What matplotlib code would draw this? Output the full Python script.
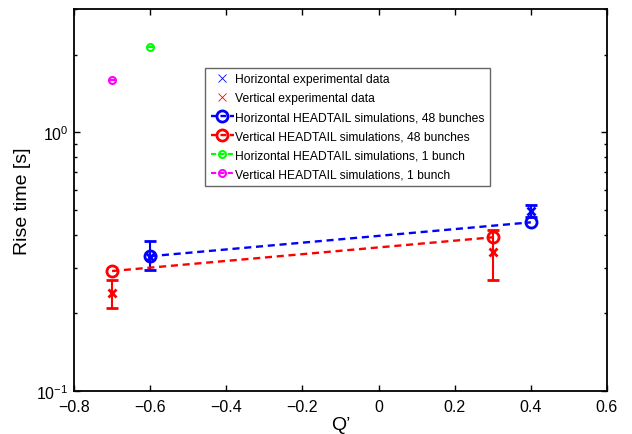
import numpy as np
import matplotlib
matplotlib.use('Agg')
import matplotlib.pyplot as plt
from matplotlib.lines import Line2D
from matplotlib.ticker import LogLocator, FixedLocator

plt.rcParams['font.family'] = ['Liberation Sans', 'DejaVu Sans']
plt.rcParams['mathtext.fontset'] = 'custom'
plt.rcParams['mathtext.rm'] = 'Liberation Sans'
plt.rcParams['mathtext.it'] = 'Liberation Sans:italic'

# measured rise times (value, lower and upper end of error bar)
q_exp_h = [-0.6, 0.4]
rise_exp_h = [0.33, 0.495]
low_exp_h = [0.293, 0.47]
up_exp_h = [0.379, 0.523]

q_exp_v = [-0.7, 0.3]
rise_exp_v = [0.239, 0.344]
low_exp_v = [0.209, 0.268]
up_exp_v = [0.268, 0.418]

# HEADTAIL, 48 bunches
q_sim_h = [-0.6, 0.4]
rise_sim_h = [0.332, 0.449]
q_sim_v = [-0.7, 0.3]
rise_sim_v = [0.291, 0.393]

# HEADTAIL, 1 bunch
q_1b_h = [-0.6]
rise_1b_h = [2.13]
q_1b_v = [-0.7]
rise_1b_v = [1.60]

GREEN = (0, 1, 0)
MAGENTA = (1, 0, 1)
DASH = (3, 2)

fig = plt.figure(figsize=(6.32, 4.35), dpi=100)
ax = fig.add_axes([74/632, 43/435, 533/632, 382/435])

def yerr(val, lo, up):
    val = np.array(val); lo = np.array(lo); up = np.array(up)
    return [val - lo, up - val]

ax.errorbar(q_exp_h, rise_exp_h, yerr=yerr(rise_exp_h, low_exp_h, up_exp_h),
            fmt='x', color='b', ms=6, mew=2, elinewidth=1.5, capsize=4, capthick=1.5)
ax.errorbar(q_exp_v, rise_exp_v, yerr=yerr(rise_exp_v, low_exp_v, up_exp_v),
            fmt='x', color='r', ms=6, mew=2, elinewidth=1.5, capsize=4, capthick=1.5)

ax.plot(q_sim_h, rise_sim_h, '--o', color='b', lw=1.7, dashes=DASH, ms=8, mew=2, mfc='none')
ax.plot(q_sim_v, rise_sim_v, '--o', color='r', lw=1.7, dashes=DASH, ms=8, mew=2, mfc='none')

# single bunch runs, zero-width error bar gives the centre stroke
ax.errorbar(q_1b_h, rise_1b_h, yerr=[0], fmt='o', color=GREEN, ms=5, mew=1.5,
            mfc='none', capsize=2, capthick=1.2)
ax.errorbar(q_1b_v, rise_1b_v, yerr=[0], fmt='o', color=MAGENTA, ms=5, mew=1.5,
            mfc='none', capsize=2, capthick=1.2)

leg_dash = (2.5, 1.5)
handles = [
    Line2D([], [], ls='none', marker='x', color='b', ms=6, mew=0.6),
    Line2D([], [], ls='none', marker='x', color='r', ms=6, mew=0.6),
    Line2D([], [], ls='--', dashes=leg_dash, marker='o', color='b', lw=1.7, ms=8, mew=2, mfc='none'),
    Line2D([], [], ls='--', dashes=leg_dash, marker='o', color='r', lw=1.7, ms=8, mew=2, mfc='none'),
    Line2D([], [], ls='--', dashes=leg_dash, marker='o', color=GREEN, lw=1.5, ms=5, mew=1.5, mfc='none'),
    Line2D([], [], ls='--', dashes=leg_dash, marker='o', color=MAGENTA, lw=1.5, ms=5, mew=1.5, mfc='none'),
]
labels = ['Horizontal experimental data',
          'Vertical experimental data',
          'Horizontal HEADTAIL simulations, 48 bunches',
          'Vertical HEADTAIL simulations, 48 bunches',
          'Horizontal HEADTAIL simulations, 1 bunch',
          'Vertical HEADTAIL simulations, 1 bunch']
leg = ax.legend(handles, labels, loc='upper left', bbox_to_anchor=(0.246, 0.846),
                borderaxespad=0, fontsize=8.7, fancybox=False, framealpha=1,
                edgecolor='0.4', labelspacing=0.58, handlelength=1.9,
                handletextpad=0.1, borderpad=0.45)
leg.get_frame().set_linewidth(1.0)

ax.set_yscale('log')
ax.set_xlim(-0.8, 0.6)
ax.set_ylim(0.1, 3)
ax.set_xticks(np.arange(-0.8, 0.61, 0.2))
ax.set_xticklabels(['\u22120.8', '\u22120.6', '\u22120.4', '\u22120.2', '0', '0.2', '0.4', '0.6'])
ax.yaxis.set_major_locator(FixedLocator([0.1, 1]))
ax.set_yticklabels(['$10^{-1}$', '$10^{0}$'])
ax.yaxis.set_minor_locator(LogLocator(base=10, subs=np.arange(2, 10)))
ax.tick_params(which='both', direction='in', top=True, right=True, labelsize=11.5, width=1.0)
ax.tick_params(which='major', length=4.5)
ax.tick_params(axis='x', which='major', pad=6)
ax.tick_params(axis='y', which='major', pad=4)
ax.tick_params(which='minor', length=2.5)
for s in ax.spines.values():
    s.set_linewidth(1.3)

ax.set_xlabel('Q\u2019', fontsize=14, labelpad=1)
ax.set_ylabel('Rise time [s]', fontsize=14, labelpad=4)

fig.savefig('out.png', dpi=100)
